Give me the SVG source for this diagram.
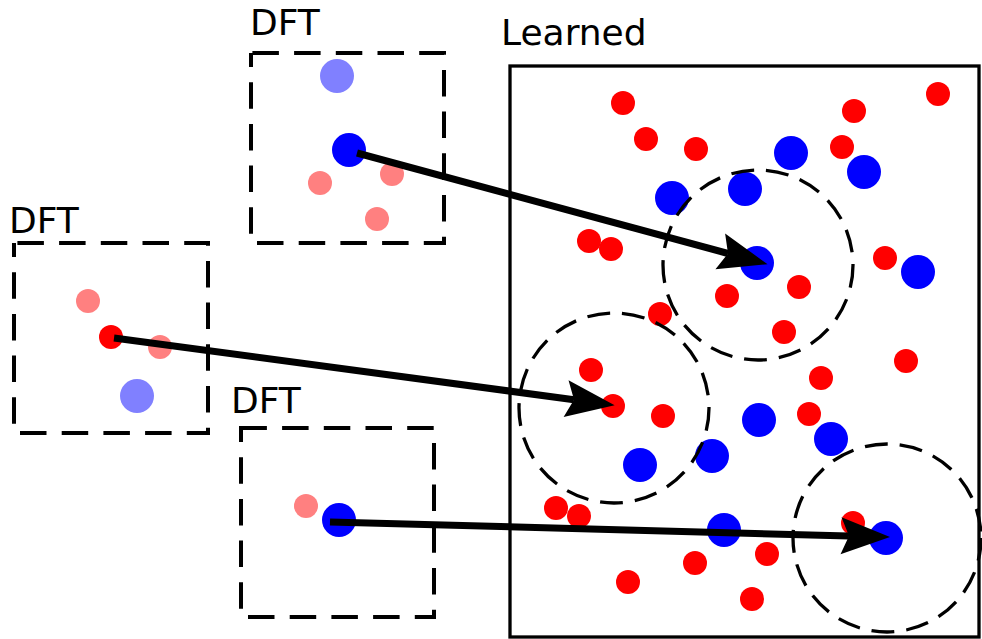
<svg xmlns="http://www.w3.org/2000/svg" width="982" height="639" viewBox="0 0 982 639">
  <style>
    .label { font-family: "DejaVu Sans", "Liberation Sans", sans-serif; font-size: 36px; fill: #000; }
    .dft { fill: none; stroke: #000; stroke-width: 4; stroke-dasharray: 26.5 15.2; stroke-dashoffset: 12.5; }
    .box { fill: none; stroke: #000; stroke-width: 3.3; }
    .ring { fill: none; stroke: #000; stroke-width: 3.3; stroke-dasharray: 23 12; }
    .r { fill: #ff0000; }
    .b { fill: #0000ff; }
    .rl { fill: #ff8080; }
    .bl { fill: #8080ff; }
    .arrow { fill: none; stroke: #000; stroke-width: 7; marker-end: url(#head); }
  </style>
  <defs>
    <marker id="head" markerUnits="userSpaceOnUse" viewBox="-10 -20 52 40" markerWidth="52" markerHeight="40" refX="0" refY="0" orient="auto">
      <path d="M41,0 L-8,-18.5 L0,0 L-8,18.5 Z" fill="#000"/>
    </marker>
  </defs>

  <!-- source sample: top -->
  <g id="dft-top">
    <text class="label" x="250" y="35">DFT</text>
    <path class="dft" d="M251,53 V243 H444 V53 Z"/>
    <circle class="bl" cx="337" cy="76" r="17"/>
    <circle class="rl" cx="320" cy="183" r="12"/>
    <circle class="rl" cx="392" cy="174" r="12"/>
    <circle class="rl" cx="377" cy="219" r="12"/>
    <circle class="b" cx="349" cy="150" r="17"/>
  </g>

  <!-- source sample: left -->
  <g id="dft-left">
    <text class="label" x="9" y="233">DFT</text>
    <path class="dft" d="M14,243 V433 H208 V243 Z"/>
    <circle class="rl" cx="88" cy="301" r="12"/>
    <circle class="rl" cx="160" cy="347" r="12"/>
    <circle class="bl" cx="137" cy="396" r="17"/>
    <circle class="r" cx="111" cy="337" r="12"/>
  </g>

  <!-- source sample: bottom -->
  <g id="dft-bottom">
    <text class="label" x="231" y="413">DFT</text>
    <path class="dft" d="M241,428 V617 H434 V428 Z"/>
    <circle class="rl" cx="306" cy="506" r="12"/>
    <circle class="b" cx="339" cy="520" r="17"/>
  </g>

  <!-- learned embedding space -->
  <g id="learned">
    <text class="label" x="501" y="45">Learned</text>
    <rect class="box" x="510" y="66" width="469" height="571"/>
    <g id="learned-points">
      <circle class="r" cx="623" cy="103" r="12"/>
      <circle class="r" cx="646" cy="139" r="12"/>
      <circle class="r" cx="696" cy="149" r="12"/>
      <circle class="r" cx="854" cy="111" r="12"/>
      <circle class="r" cx="938" cy="94" r="12"/>
      <circle class="r" cx="842" cy="147" r="12"/>
      <circle class="r" cx="589" cy="241" r="12"/>
      <circle class="r" cx="611" cy="249" r="12"/>
      <circle class="r" cx="727" cy="296" r="12"/>
      <circle class="r" cx="799" cy="287" r="12"/>
      <circle class="r" cx="885" cy="258" r="12"/>
      <circle class="r" cx="660" cy="314" r="12"/>
      <circle class="r" cx="784" cy="332" r="12"/>
      <circle class="r" cx="906" cy="361" r="12"/>
      <circle class="r" cx="821" cy="378" r="12"/>
      <circle class="r" cx="591" cy="370" r="12"/>
      <circle class="r" cx="613" cy="406" r="12"/>
      <circle class="r" cx="663" cy="416" r="12"/>
      <circle class="r" cx="809" cy="414" r="12"/>
      <circle class="r" cx="556" cy="508" r="12"/>
      <circle class="r" cx="579" cy="516" r="12"/>
      <circle class="r" cx="853" cy="523" r="12"/>
      <circle class="r" cx="767" cy="554" r="12"/>
      <circle class="r" cx="695" cy="563" r="12"/>
      <circle class="r" cx="628" cy="582" r="12"/>
      <circle class="r" cx="752" cy="599" r="12"/>
      <circle class="b" cx="791" cy="153" r="17"/>
      <circle class="b" cx="864" cy="172" r="17"/>
      <circle class="b" cx="672" cy="198" r="17"/>
      <circle class="b" cx="745" cy="189" r="17"/>
      <circle class="b" cx="757" cy="263" r="17"/>
      <circle class="b" cx="918" cy="272" r="17"/>
      <circle class="b" cx="759" cy="420" r="17"/>
      <circle class="b" cx="831" cy="439" r="17"/>
      <circle class="b" cx="640" cy="465" r="17"/>
      <circle class="b" cx="712" cy="456" r="17"/>
      <circle class="b" cx="724" cy="530" r="17"/>
      <circle class="b" cx="886" cy="538" r="17"/>
    </g>
    <!-- neighbourhoods around mapped points -->
    <circle class="ring" cx="758" cy="265" r="95"/>
    <circle class="ring" cx="614" cy="408" r="95"/>
    <circle class="ring" cx="887" cy="538" r="94"/>
  </g>

  <!-- mappings from DFT samples into the learned space -->
  <g id="connectors">
    <line class="arrow" x1="357" y1="153" x2="728" y2="253.5"/>
    <line class="arrow" x1="114" y1="338" x2="574" y2="399.7"/>
    <line class="arrow" x1="330" y1="522" x2="849" y2="536"/>
  </g>
</svg>
